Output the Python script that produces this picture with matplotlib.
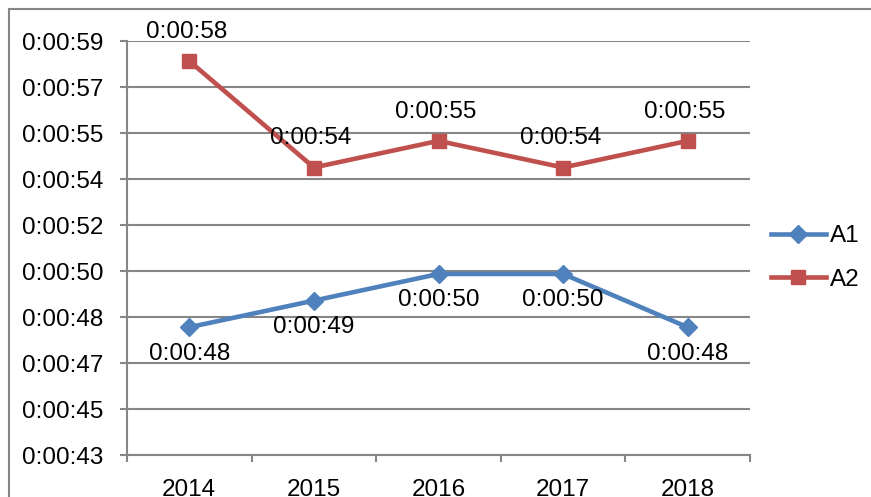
import matplotlib
matplotlib.use("Agg")
from matplotlib import pyplot as plt
from matplotlib.lines import Line2D
from matplotlib.ticker import FuncFormatter, FixedLocator

plt.rcParams['font.family'] = ['Liberation Sans', 'DejaVu Sans']

years = ['2014', '2015', '2016', '2017', '2018']
# durations in seconds
a1 = [48, 49, 50, 50, 48]
a2 = [58, 54, 55, 54, 55]

# Excel-style axis: 0.0005 day minimum, 0.00002 day major unit
ymin = 43.2
ystep = 1.728
yticks = [ymin + ystep * k for k in range(10)]


def hms(v):
    s = int(round(v))
    return '%d:%02d:%02d' % (s // 3600, (s // 60) % 60, s % 60)


grey = '#868686'
blue = '#4F81BD'
red = '#C0504D'
fs = 17.5

fig = plt.figure(figsize=(8.71, 4.97), dpi=100)
ax = fig.add_axes([127 / 871, 1 - 455 / 497, 623 / 871, 414 / 497])

x = list(range(len(years)))
ax.plot(x, a1, color=blue, lw=3.3, marker='D', ms=9.5, label='A1', zorder=3)
ax.plot(x, a2, color=red, lw=3.3, marker='s', ms=10.5, label='A2', zorder=3)

for xi, v in zip(x, a1):
    ax.annotate(hms(v), (xi, v), xytext=(0, -19), textcoords='offset points',
                ha='center', va='center', fontsize=fs)
for xi, v in zip(x, a2):
    ax.annotate(hms(v), (xi, v), xytext=(-2, 21), textcoords='offset points',
                ha='center', va='center', fontsize=fs)

ax.set_xlim(-0.5, 4.5)
ax.set_ylim(yticks[0], yticks[-1])
ax.yaxis.set_major_locator(FixedLocator(yticks))
ax.yaxis.set_major_formatter(FuncFormatter(lambda v, p: hms(v)))
ax.set_xticks(x)
ax.set_xticklabels(years)
ax.set_xticks([i - 0.5 for i in range(len(years) + 1)], minor=True)
ax.tick_params(axis='x', which='major', length=0, pad=17, labelsize=fs)
ax.tick_params(axis='x', which='minor', length=5, width=1.5, color=grey)
ax.tick_params(axis='y', length=5, width=1.5, color=grey, pad=12, labelsize=fs)

ax.grid(axis='y', color=grey, lw=1.5)
ax.set_axisbelow(True)
for side in ['top', 'right']:
    ax.spines[side].set_visible(False)
for side in ['left', 'bottom']:
    ax.spines[side].set_color(grey)
    ax.spines[side].set_linewidth(1.5)

ax.legend(loc='center left', bbox_to_anchor=(771 / 871, 1 - 258 / 497),
          bbox_transform=fig.transFigure, frameon=False, fontsize=fs,
          borderpad=0, borderaxespad=0, handlelength=2.26,
          handletextpad=0.16, labelspacing=0.9)

# chart border (cut off at right and bottom)
fig.add_artist(Line2D([9 / 871, 9 / 871], [0, 1 - 9 / 497], color=grey, lw=1.5))
fig.add_artist(Line2D([9 / 871, 1], [1 - 9 / 497, 1 - 9 / 497], color=grey, lw=1.5))

fig.savefig('out.png', dpi=100)
